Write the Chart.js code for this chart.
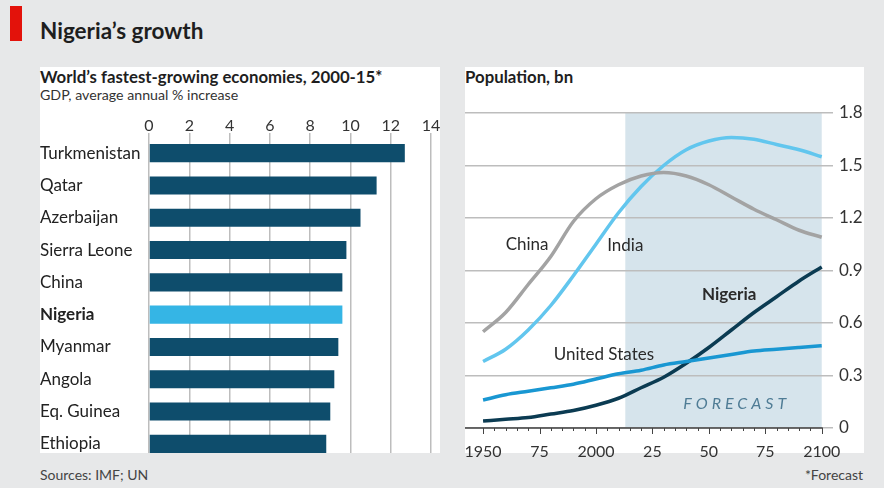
<!DOCTYPE html>
<html>
<head>
<meta charset="utf-8">
<script src="https://cdn.jsdelivr.net/npm/chart.js@4.4.0/dist/chart.umd.min.js"></script>
<style>
  body { margin: 0; width: 884px; height: 488px; background: #e7e8e9; position: relative; overflow: hidden; font-family: Lato, "Open Sans", sans-serif; color: #1e1e1e; }
  .tag { position: absolute; left: 10px; top: 6px; width: 12px; height: 35px; background: #e3120b; }
  .title { position: absolute; left: 40px; top: 17px; font-size: 22.5px; font-weight: bold; }
  .panel { position: absolute; background: #fff; }
  .head { position: absolute; font-size: 16.8px; font-weight: bold; }
  .sub { position: absolute; font-size: 14.2px; color: #333; }
  .foot { position: absolute; font-size: 14px; color: #444; }
  .clip { position: absolute; overflow: hidden; }
  canvas { display: block; }
</style>
</head>
<body>
<div class="tag"></div>
<div class="title">Nigeria’s growth</div>

<div class="panel" style="left:40px; top:67px; width:400px; height:386px;"></div>
<div class="panel" style="left:465px; top:67px; width:399px; height:386px;"></div>

<div class="head" style="left:40px; top:66px;">World’s fastest-growing economies, 2000-15*</div>
<div class="sub" style="left:40px; top:86px;">GDP, average annual % increase</div>
<div class="head" style="left:465px; top:66px;">Population, bn</div>

<div class="clip" style="left:40px; top:105px; width:400px; height:348px;">
  <div style="width:400px; height:355px;"><canvas id="gdpChart"></canvas></div>
</div>
<div style="position:absolute; left:465px; top:100px; width:399px; height:360px;"><canvas id="popChart"></canvas></div>

<div class="foot" style="left:40px; top:466px;">Sources: IMF; UN</div>
<div class="foot" style="right:21px; top:466px;">*Forecast</div>

<script>
const FONT = "Lato, 'Open Sans', sans-serif";

// GDP growth, 2000-15
const countries = ["Turkmenistan", "Qatar", "Azerbaijan", "Sierra Leone", "China",
  "Nigeria", "Myanmar", "Angola", "Eq. Guinea", "Ethiopia"];
const gdpGrowth = [12.7, 11.3, 10.5, 9.8, 9.6, 9.6, 9.4, 9.2, 9.0, 8.8];
const gdpTicks = [0, 2, 4, 6, 8, 10, 12, 14];

// Population, bn (UN, forecast after 2013)
const years = [1950, 1960, 1970, 1980, 1990, 2000, 2010, 2020, 2030, 2040, 2050, 2060, 2070, 2080, 2090, 2100];
const china = [0.55, 0.66, 0.82, 0.98, 1.18, 1.31, 1.39, 1.44, 1.46, 1.44, 1.39, 1.32, 1.25, 1.19, 1.13, 1.09];
const india = [0.38, 0.45, 0.56, 0.70, 0.87, 1.05, 1.23, 1.38, 1.50, 1.59, 1.64, 1.66, 1.65, 1.62, 1.59, 1.55];
const usa = [0.16, 0.19, 0.21, 0.23, 0.25, 0.28, 0.31, 0.33, 0.36, 0.38, 0.40, 0.42, 0.44, 0.45, 0.46, 0.47];
const nigeria = [0.04, 0.05, 0.06, 0.08, 0.10, 0.13, 0.17, 0.23, 0.29, 0.37, 0.46, 0.56, 0.66, 0.75, 0.84, 0.92];
const popTicks = [0, 0.3, 0.6, 0.9, 1.2, 1.5, 1.8];
const yearTicks = [1950, 1975, 2000, 2025, 2050, 2075, 2100];
const forecastFrom = 2013;

const DARK = "#0e4d6c";
const LIGHT = "#35b5e5";

new Chart(document.getElementById("gdpChart"), {
  type: "bar",
  data: {
    labels: countries,
    datasets: [{
      data: gdpGrowth,
      backgroundColor: countries.map((c) => (c === "Nigeria" ? LIGHT : DARK)),
      barPercentage: 0.56,
      categoryPercentage: 1,
    }],
  },
  options: {
    indexAxis: "y",
    responsive: true,
    maintainAspectRatio: false,
    animation: false,
    layout: { padding: 0 },
    plugins: { legend: { display: false }, tooltip: { enabled: false } },
    scales: {
      x: {
        position: "top",
        min: 0,
        max: 14,
        afterBuildTicks: (s) => { s.ticks = gdpTicks.map((v) => ({ value: v })); },
        afterFit: (s) => { s.height = 32; s.paddingLeft = 0; s.paddingRight = 9; },
        grid: { color: "#bdbdbd", lineWidth: 1.5, tickLength: 4 },
        border: { display: false },
        ticks: { color: "#333", padding: -2, font: { family: FONT, size: 16 } },
      },
      y: {
        afterFit: (s) => { s.width = 109; s.paddingTop = 0; s.paddingBottom = 0; },
        grid: { display: false },
        border: { display: false },
        ticks: {
          crossAlign: "far",
          padding: 0,
          color: "#222",
          font: (ctx) => ({ family: FONT, size: 17, weight: countries[ctx.index] === "Nigeria" ? "bold" : "normal" }),
        },
      },
    },
  },
});

// shaded forecast block behind the lines, plus baseline, year ticks and series labels
const forecastShade = {
  id: "forecastShade",
  beforeDraw(chart) {
    const { ctx, scales: { x, y } } = chart;
    ctx.save();
    ctx.fillStyle = "#d6e4ec";
    const x0 = x.getPixelForValue(forecastFrom), x1 = x.getPixelForValue(2100);
    const y0 = y.getPixelForValue(1.8), y1 = y.getPixelForValue(0);
    ctx.fillRect(x0, y0, x1 - x0, y1 - y0);
    ctx.restore();
  },
  afterDatasetsDraw(chart) {
    const { ctx, scales: { x, y } } = chart;
    ctx.save();
    const y0 = y.getPixelForValue(0);
    ctx.strokeStyle = "#444";
    ctx.lineWidth = 1.5;
    ctx.beginPath();
    ctx.moveTo(chart.chartArea.left, y0);
    ctx.lineTo(x.getPixelForValue(2100) + 1, y0);
    ctx.stroke();
    ctx.lineWidth = 1;
    for (let yr = 1950; yr <= 2100; yr += 5) {
      const px = Math.round(x.getPixelForValue(yr)) + 0.5;
      ctx.beginPath();
      ctx.moveTo(px, y0);
      ctx.lineTo(px, y0 + (yr % 25 === 0 ? 6 : 3));
      ctx.stroke();
    }
    const labels = [
      { t: "China", yr: 1969.5, v: 1.05, bold: false },
      { t: "India", yr: 2013, v: 1.04, bold: false },
      { t: "Nigeria", yr: 2059, v: 0.76, bold: true },
      { t: "United States", yr: 2003.5, v: 0.42, bold: false },
    ];
    ctx.textAlign = "center";
    ctx.textBaseline = "middle";
    ctx.fillStyle = "#2a2a2a";
    labels.forEach((l) => {
      ctx.font = `${l.bold ? "bold " : ""}17px ${FONT}`;
      ctx.fillText(l.t, x.getPixelForValue(l.yr), y.getPixelForValue(l.v));
    });
    ctx.font = `italic 16px ${FONT}`;
    ctx.fillStyle = "#4f7c95";
    ctx.letterSpacing = "4px";
    ctx.fillText("FORECAST", x.getPixelForValue(2061.5) + 2, y.getPixelForValue(0.14));
    ctx.restore();
  },
};

const line = (data, color) => ({
  data: years.map((yr, i) => ({ x: yr, y: data[i] })),
  borderColor: color,
  borderWidth: 3.5,
  pointRadius: 0,
  cubicInterpolationMode: "monotone",
  fill: false,
});

new Chart(document.getElementById("popChart"), {
  type: "line",
  data: {
    datasets: [
      line(china, "#a3a3a3"),
      line(india, "#62c6ee"),
      line(usa, "#1997d2"),
      line(nigeria, "#0b3b52"),
    ],
  },
  options: {
    responsive: true,
    maintainAspectRatio: false,
    animation: false,
    layout: { padding: { top: 13 } },
    plugins: { legend: { display: false }, tooltip: { enabled: false } },
    scales: {
      x: {
        type: "linear",
        min: 1942,
        max: 2105,
        afterBuildTicks: (s) => { s.ticks = yearTicks.map((v) => ({ value: v })); },
        afterFit: (s) => { s.height = 32; s.paddingLeft = 0; s.paddingRight = 0; },
        grid: { display: false },
        border: { display: false },
        ticks: {
          color: "#333",
          padding: 6,
          font: { family: FONT, size: 16 },
          callback: (v) => (v % 50 === 0 && v !== 2050 ? String(v) : String(v % 100)),
        },
      },
      y: {
        position: "right",
        min: 0,
        max: 1.8,
        afterBuildTicks: (s) => { s.ticks = popTicks.map((v) => ({ value: v })); },
        afterFit: (s) => { s.width = 31; s.paddingTop = 0; s.paddingBottom = 0; },
        grid: { color: "#bdbdbd", lineWidth: 1.5, tickLength: 0 },
        border: { display: false },
        ticks: {
          color: "#333",
          padding: 6,
          font: { family: FONT, size: 17 },
          callback: (v) => (v === 0 ? "0" : v.toFixed(1)),
        },
      },
    },
  },
  plugins: [forecastShade],
});
</script>
</body>
</html>
